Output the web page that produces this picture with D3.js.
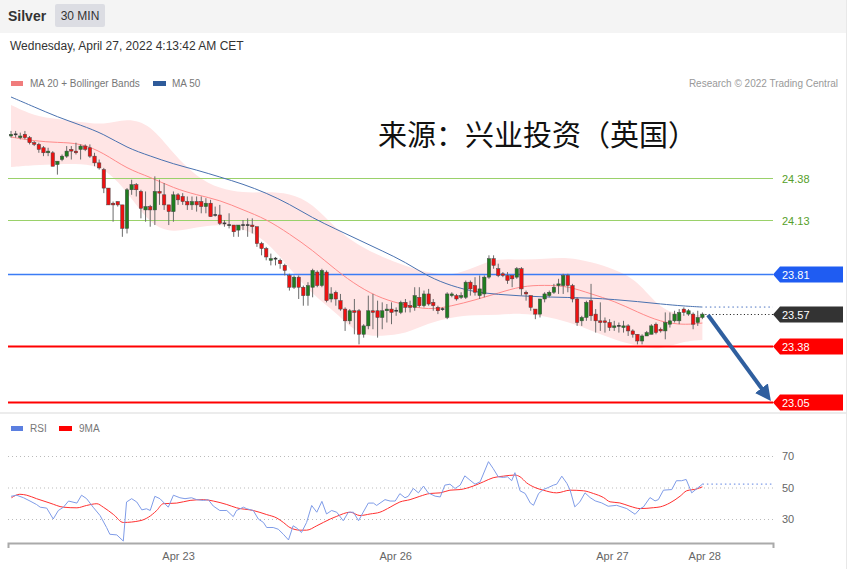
<!DOCTYPE html>
<html><head><meta charset="utf-8">
<script src="https://cdn.jsdelivr.net/npm/d3@7"></script>
<style>
body{margin:0;background:#fff;}
svg{display:block;font-family:"Liberation Sans",Arial,Helvetica,sans-serif;}
</style>
</head><body>
<svg id="chart" width="861" height="569"></svg>
<script>
// ---------------- DATA ----------------
const opens  = [24.63,24.64,24.62,24.64,24.62,24.59,24.58,24.56,24.53,24.53,24.46,24.49,24.51,24.55,24.54,24.55,24.57,24.56,24.51,24.47,
24.43,24.32,24.23,24.24,24.22,24.08,24.31,24.34,24.30,24.19,24.21,24.19,24.30,24.28,24.22,24.18,24.28,24.27,24.24,24.22,
24.24,24.24,24.21,24.23,24.16,24.16,24.11,24.10,24.10,24.07,24.10,24.10,24.10,24.09,23.99,23.96,23.89,23.90,23.89,23.86,
23.80,23.73,23.79,23.73,23.68,23.73,23.82,23.74,23.82,23.66,23.70,23.65,23.60,23.53,23.59,23.59,23.45,23.50,23.59,23.59,
23.55,23.59,23.60,23.59,23.58,23.64,23.62,23.61,23.67,23.62,23.69,23.64,23.61,23.60,23.55,23.68,23.68,23.67,23.67,23.76,
23.74,23.68,23.69,23.79,23.90,23.84,23.81,23.80,23.80,23.79,23.84,23.70,23.68,23.60,23.57,23.66,23.68,23.70,23.74,23.74,
23.80,23.74,23.66,23.53,23.55,23.65,23.57,23.53,23.53,23.52,23.49,23.50,23.49,23.50,23.47,23.45,23.41,23.44,23.45,23.51,
23.48,23.47,23.51,23.53,23.53,23.60,23.57,23.57,23.52,23.55];
const highs  = [24.66,24.66,24.65,24.66,24.63,24.60,24.59,24.57,24.56,24.54,24.48,24.52,24.57,24.57,24.59,24.58,24.58,24.58,24.53,24.49,
24.44,24.32,24.24,24.24,24.22,24.32,24.37,24.35,24.31,24.30,24.22,24.39,24.37,24.35,24.22,24.30,24.29,24.29,24.27,24.27,
24.27,24.27,24.26,24.25,24.21,24.22,24.13,24.17,24.10,24.10,24.13,24.14,24.14,24.09,24.00,23.97,23.93,23.91,23.90,23.87,
23.81,23.80,23.80,23.74,23.76,23.84,23.83,23.84,23.83,23.73,23.71,23.69,23.61,23.60,23.66,23.60,23.51,23.68,23.69,23.65,
23.64,23.63,23.64,23.61,23.65,23.66,23.65,23.73,23.73,23.71,23.72,23.66,23.62,23.61,23.70,23.70,23.69,23.70,23.77,23.77,
23.79,23.80,23.80,23.92,23.92,23.87,23.82,23.82,23.80,23.85,23.85,23.71,23.68,23.60,23.66,23.70,23.71,23.75,23.78,23.81,
23.81,23.75,23.67,23.56,23.65,23.75,23.60,23.64,23.55,23.54,23.53,23.52,23.53,23.51,23.48,23.45,23.45,23.47,23.51,23.52,
23.49,23.58,23.58,23.59,23.60,23.61,23.60,23.58,23.59,23.58];
const lows   = [24.62,24.62,24.61,24.61,24.58,24.57,24.53,24.51,24.51,24.45,24.40,24.48,24.50,24.49,24.52,24.49,24.54,24.50,24.45,24.43,
24.29,24.22,24.12,24.21,24.03,24.05,24.28,24.27,24.14,24.12,24.09,24.10,24.22,24.19,24.10,24.12,24.22,24.22,24.19,24.19,
24.18,24.17,24.17,24.15,24.15,24.10,24.09,24.08,24.03,24.03,24.07,24.03,24.05,23.97,23.92,23.89,23.86,23.86,23.84,23.80,
23.71,23.72,23.66,23.62,23.62,23.67,23.73,23.73,23.64,23.64,23.62,23.59,23.47,23.51,23.45,23.39,23.43,23.48,23.48,23.43,
23.48,23.52,23.51,23.56,23.57,23.58,23.58,23.59,23.61,23.61,23.62,23.59,23.57,23.59,23.54,23.67,23.65,23.66,23.66,23.68,
23.68,23.66,23.67,23.78,23.84,23.79,23.79,23.75,23.73,23.78,23.68,23.65,23.59,23.54,23.55,23.64,23.67,23.69,23.69,23.69,
23.70,23.64,23.50,23.50,23.53,23.53,23.46,23.47,23.46,23.47,23.47,23.46,23.46,23.44,23.43,23.39,23.39,23.44,23.45,23.45,
23.46,23.42,23.49,23.52,23.51,23.56,23.56,23.48,23.50,23.54];
const closes = [24.64,24.64,24.63,24.62,24.59,24.58,24.55,24.53,24.54,24.45,24.48,24.51,24.54,24.54,24.53,24.57,24.55,24.51,24.47,24.44,
24.32,24.22,24.22,24.22,24.08,24.31,24.34,24.31,24.20,24.21,24.19,24.30,24.29,24.22,24.18,24.28,24.25,24.24,24.22,24.24,
24.22,24.21,24.23,24.15,24.16,24.11,24.11,24.10,24.06,24.10,24.10,24.10,24.09,23.99,23.96,23.91,23.90,23.90,23.87,23.83,
23.73,23.79,23.73,23.68,23.74,23.83,23.74,23.83,23.65,23.69,23.66,23.60,23.53,23.59,23.58,23.45,23.50,23.59,23.58,23.55,
23.59,23.60,23.58,23.59,23.64,23.61,23.61,23.68,23.62,23.69,23.63,23.62,23.59,23.60,23.69,23.69,23.66,23.68,23.76,23.72,
23.70,23.72,23.79,23.90,23.86,23.80,23.80,23.77,23.78,23.84,23.72,23.69,23.61,23.57,23.66,23.69,23.70,23.73,23.75,23.80,
23.74,23.66,23.52,23.55,23.64,23.56,23.53,23.52,23.52,23.49,23.50,23.50,23.50,23.47,23.45,23.41,23.44,23.46,23.50,23.46,
23.47,23.52,23.53,23.57,23.58,23.58,23.59,23.51,23.55,23.57];

// indicator samples (bar index -> price)
const indIdx   = [0,5,10,15,20,25,30,35,40,45,50,55,60,65,70,75,80,85,90,95,100,105,110,115,120,125,130,135,140,145,149];
const ma20     = [24.624,24.600,24.591,24.588,24.529,24.434,24.386,24.320,24.279,24.249,24.190,24.136,24.047,23.951,23.832,23.731,23.660,23.624,23.594,23.618,23.654,23.695,23.737,23.743,23.737,23.690,23.648,23.582,23.523,23.505,23.517];
const ma50     = [24.862,24.803,24.743,24.695,24.642,24.559,24.511,24.463,24.428,24.386,24.344,24.291,24.225,24.142,24.076,24.011,23.946,23.880,23.791,23.737,23.701,23.687,23.678,23.672,23.669,23.666,23.657,23.645,23.630,23.618,23.612];
const bbUpper  = [24.815,24.749,24.731,24.713,24.695,24.737,24.701,24.523,24.386,24.315,24.291,24.297,24.291,24.231,24.076,23.975,23.910,23.856,23.815,23.797,23.851,23.904,23.892,23.898,23.910,23.880,23.838,23.773,23.594,23.565,23.565];
const bbLower  = [24.445,24.457,24.463,24.466,24.445,24.303,24.100,24.053,24.088,24.106,24.082,24.011,23.844,23.684,23.582,23.440,23.440,23.451,23.517,23.553,23.565,23.565,23.576,23.559,23.523,23.475,23.416,23.380,23.356,23.410,23.416];

// RSI samples (bar index -> value)
const rsiIdx = [0,1.2,2.7,4.1,5.5,6.3,7.7,9.1,10.2,11.3,12.4,14.2,15.2,16.3,17.7,19.2,20.6,21.3,22.8,24.2,
24.9,26.0,27.1,28.2,29.2,30.0,31.0,32.1,32.8,33.9,35.0,36.4,37.5,38.9,40.0,41.5,42.5,43.6,45.0,46.5,
47.9,48.6,50.1,50.8,52.2,53.3,54.4,55.1,56.5,57.6,58.7,59.8,60.8,61.6,62.6,63.7,64.8,65.9,67.0,68.0,
69.1,70.2,71.6,72.7,73.8,74.9,75.9,77.0,78.1,78.8,80.6,81.7,82.8,83.8,84.9,85.6,86.7,87.8,88.9,89.9,
91.4,92.5,93.5,94.6,95.7,96.8,97.8,98.9,100.0,101.1,102.9,103.9,105.0,106.1,107.0,107.9,108.6,109.7,110.8,111.9,
112.6,113.7,114.7,115.8,116.9,117.6,118.7,119.8,120.5,121.5,122.6,123.7,124.8,125.9,127.3,128.7,130.5,132.7,134.5,135.6,
136.3,137.7,138.8,139.5,140.6,142.4,143.4,144.5,145.5,146.7,147.4,149];
const rsiVal = [44.4,45.1,43.5,41.4,39.2,37.5,36.9,30.0,35.4,37.5,41.4,40.1,45.1,42.9,37.5,32.2,24.6,20.3,19.9,16.0,
40.8,42.9,40.8,35.8,36.5,35.4,44.4,42.9,40.8,37.5,45.1,43.5,42.9,43.5,42.3,41.8,42.3,38.2,35.4,35.4,
31.5,35.4,37.5,36.5,35.4,30.0,27.8,24.6,24.6,23.5,20.3,16.7,25.7,24.2,21.4,27.8,38.6,34.3,41.2,33.2,
35.4,34.3,28.9,34.3,34.3,28.9,34.3,40.1,40.1,38.6,42.3,41.4,41.4,46.1,43.5,44.4,49.4,46.6,50.9,46.6,
44.5,44.0,51.5,52.1,49.4,51.5,57.4,54.7,52.1,53.6,66.4,62.1,56.8,56.4,56.8,54.3,59.4,47.9,46.2,40.2,
38.7,46.2,48.7,50.0,51.5,52.1,57.2,52.6,48.3,37.7,40.9,46.6,43.6,41.5,40.2,38.1,38.7,36.6,33.0,36.6,
37.7,43.6,41.5,42.3,48.3,48.7,54.3,54.3,55.1,46.6,48.3,52.1];
const ma9Idx = [0.1,1.9,3.4,5.5,8.4,11.3,14.2,16.3,18.5,19.9,22.1,24.2,27.8,29.6,31.4,32.8,35.7,38.6,41.5,43.6,
46.5,48.6,52.2,55.1,57.3,58.7,60.1,62.3,63.7,65.9,68.8,70.2,73.1,75.2,77.4,79.5,81.7,83.8,86.0,88.1,
90.3,92.5,94.6,96.8,99.6,101.8,103.9,106.1,108.6,109.7,111.1,112.9,114.7,117.6,120.5,123.4,125.5,127.7,129.1,131.2,
133.4,135.6,138.5,139.9,142.0,144.2,145.6,147.8,149];
const ma9Val = [43.5,45.7,45.1,42.9,40.1,37.5,37.1,38.6,39.7,37.5,32.8,27.8,28.9,31.1,35.4,39.7,40.1,41.8,42.3,41.4,
39.2,37.1,35.4,32.8,30.6,27.8,24.6,22.9,22.9,25.7,30.0,31.7,34.3,32.2,33.2,34.3,37.5,40.8,42.3,44.4,
46.2,46.6,48.3,48.7,50.9,53.6,56.2,57.2,57.9,56.8,53.0,50.0,48.3,46.6,48.3,47.9,46.2,43.6,40.9,40.2,
38.1,36.6,37.2,37.7,40.2,44.5,47.9,49.1,50.4];

// key levels
const levelPrices = [24.38, 24.13, 23.81, 23.57, 23.38, 23.05];
const levelLabels = ["24.38","24.13","23.81","23.57","23.38","23.05"];
const levelKinds  = ["res","res","pivot","last","sup","sup"];
const rsiLevels   = [70, 50, 30];

// x-axis ticks (bar index)
const tickIdx    = [36, 82.8, 129.5, 149.4];
const tickLabels = ["Apr 23","Apr 26","Apr 27","Apr 28"];

// arrow (bar index, price)
const arrowFrom = [150.2, 23.565];
const arrowTo   = [163.6, 23.055];

// --------------- DRAW ----------------
const svg = d3.select("#chart");
const N = closes.length;

const x = d3.scaleLinear().domain([0, N - 1]).range([11, 702.4]);
const y = d3.scaleLinear().domain([23.05, 24.38]).range([401.5, 178]);
const yR = d3.scaleLinear().domain([30, 70]).range([519, 456]);
const X0 = 8, X1 = 773;

// header
svg.append("rect").attr("x",0).attr("y",0).attr("width",846).attr("height",33).attr("fill","#f4f4f4");
svg.append("text").attr("x",8).attr("y",21).attr("font-size",14).attr("font-weight","bold").attr("fill","#333").text("Silver");
svg.append("rect").attr("x",55).attr("y",4).attr("width",50).attr("height",23).attr("rx",2).attr("fill","#dcdde3");
svg.append("text").attr("x",80).attr("y",20).attr("text-anchor","middle").attr("font-size",12).attr("fill","#333").text("30 MIN");
svg.append("text").attr("x",10).attr("y",50).attr("font-size",12).attr("fill","#333").text("Wednesday, April 27, 2022 4:13:42 AM CET");

// frame lines
svg.append("line").attr("x1",846.5).attr("x2",846.5).attr("y1",0).attr("y2",569).attr("stroke","#e8e8e8");
svg.append("line").attr("x1",0).attr("x2",846).attr("y1",413).attr("y2",413).attr("stroke","#ececec").attr("stroke-width",2);

// legend main
svg.append("rect").attr("x",11).attr("y",81).attr("width",12).attr("height",5).attr("fill","#f07c7c");
svg.append("text").attr("x",30).attr("y",87).attr("font-size",10).attr("fill","#777").text("MA 20 + Bollinger Bands");
svg.append("rect").attr("x",153).attr("y",81).attr("width",13).attr("height",5).attr("fill","#2f5b9a");
svg.append("text").attr("x",172).attr("y",87).attr("font-size",10).attr("fill","#777").text("MA 50");
svg.append("text").attr("x",838).attr("y",87).attr("text-anchor","end").attr("font-size",10).attr("fill","#999").text("Research © 2022 Trading Central");

// Bollinger band
const bandData = indIdx.map((d,k)=>({i:d,u:bbUpper[k],l:bbLower[k],m20:ma20[k],m50:ma50[k]}));
svg.append("path").datum(bandData)
  .attr("d", d3.area().x(d=>x(d.i)).y0(d=>y(d.l)).y1(d=>y(d.u)).curve(d3.curveBasis))
  .attr("fill","#ffe5e5");

// Chinese watermark
svg.append("text").attr("x",378).attr("y",146).attr("font-size",29)
  .attr("font-family","'Noto Sans CJK SC','Noto Sans CJK JP',sans-serif").attr("fill","#111")
  .text("来源：兴业投资（英国）");

// horizontal levels
const lvlColor = {res:"#9ad16a", pivot:"#3b7cf5", last:"#222", sup:"#ff0000"};
const lvlWidth = {res:1, pivot:1.5, last:1, sup:2};
levelPrices.forEach((p,k)=>{
  const kind = levelKinds[k], yy = Math.round(y(p))+0.5;
  if (kind === "last") {
    svg.append("line").attr("x1",x(N-1)+3).attr("x2",X1).attr("y1",yy).attr("y2",yy)
      .attr("stroke","#111").attr("stroke-dasharray","1,2.5");
  } else {
    svg.append("line").attr("x1",X0).attr("x2",X1).attr("y1",yy).attr("y2",yy)
      .attr("stroke",lvlColor[kind]).attr("stroke-width",lvlWidth[kind]);
  }
  if (kind === "res") {
    svg.append("text").attr("x",782).attr("y",yy+4).attr("font-size",11).attr("fill","#56a02a").text(levelLabels[k]);
  } else {
    const fill = kind==="pivot" ? "#1f5cf2" : kind==="last" ? "#333" : "#ff0000";
    const h = 8;
    svg.append("path").attr("d",`M773,${yy} L780,${yy-h} L843,${yy-h} L843,${yy+h} L780,${yy+h} Z`).attr("fill",fill);
    svg.append("text").attr("x",782).attr("y",yy+4).attr("font-size",11).attr("fill","#fff").text(levelLabels[k]);
  }
});

// MA lines
svg.append("path").datum(bandData)
  .attr("d", d3.line().x(d=>x(d.i)).y(d=>y(d.m20)).curve(d3.curveBasis))
  .attr("fill","none").attr("stroke","#ff8a8a").attr("stroke-width",1);
svg.append("path").datum(bandData)
  .attr("d", d3.line().x(d=>x(d.i)).y(d=>y(d.m50)).curve(d3.curveBasis))
  .attr("fill","none").attr("stroke","#4a72b0").attr("stroke-width",1);
// MA50 dotted extension
const lastM50 = ma50[ma50.length-1];
svg.append("line").attr("x1",x(N-1)+3).attr("x2",X1).attr("y1",y(lastM50)).attr("y2",y(lastM50))
  .attr("stroke","#4a72c0").attr("stroke-dasharray","1.5,3");

// candles
const cg = svg.append("g");
d3.range(N).forEach(i=>{
  const o=opens[i], c=closes[i], h=highs[i], l=lows[i];
  const cx = x(i);
  cg.append("line").attr("x1",cx).attr("x2",cx).attr("y1",y(h)).attr("y2",y(l))
    .attr("stroke","#6b6b6b").attr("stroke-width",1);
  const top = y(Math.max(o,c)), bot = y(Math.min(o,c));
  const up = c > o;
  if (Math.abs(c-o) < 0.005) {
    cg.append("rect").attr("x",cx-1.8).attr("y",top-0.8).attr("width",3.6).attr("height",1.6).attr("fill","#3a3a3a");
  } else {
    cg.append("rect").attr("x",cx-1.7).attr("y",top).attr("width",3.4).attr("height",Math.max(1.5,bot-top))
      .attr("fill", up ? "#1f7d1f" : "#ee1111").attr("stroke","#444").attr("stroke-width",0.5);
  }
});

// arrow
const defs = svg.append("defs");
defs.append("marker").attr("id","ah").attr("viewBox","0 0 10 10").attr("refX",5).attr("refY",5)
  .attr("markerWidth",4).attr("markerHeight",4).attr("orient","auto")
  .append("path").attr("d","M0,0 L10,5 L0,10 Z").attr("fill","#2f5f9f");
svg.append("line").attr("x1",x(arrowFrom[0])).attr("y1",y(arrowFrom[1]))
  .attr("x2",x(arrowTo[0])-4).attr("y2",y(arrowTo[1])-6)
  .attr("stroke","#2f5f9f").attr("stroke-width",4).attr("marker-end","url(#ah)");

// ---------- RSI panel ----------
svg.append("rect").attr("x",11).attr("y",426).attr("width",12).attr("height",5).attr("fill","#5b7fe0");
svg.append("text").attr("x",30).attr("y",432).attr("font-size",10).attr("fill","#777").text("RSI");
svg.append("rect").attr("x",59).attr("y",426).attr("width",13).attr("height",5).attr("fill","#ff0000");
svg.append("text").attr("x",79).attr("y",432).attr("font-size",10).attr("fill","#777").text("9MA");

rsiLevels.forEach(v=>{
  svg.append("line").attr("x1",X0).attr("x2",X1).attr("y1",yR(v)+0.5).attr("y2",yR(v)+0.5)
    .attr("stroke","#bbb").attr("stroke-dasharray","1,3");
  svg.append("text").attr("x",782).attr("y",yR(v)+4).attr("font-size",11).attr("fill","#666").text(v);
});

const rsiPts = rsiIdx.map((d,k)=>[d, rsiVal[k]]);
const ma9Pts = ma9Idx.map((d,k)=>[d, ma9Val[k]]);
svg.append("path").datum(ma9Pts).attr("d", d3.line().x(d=>x(d[0])).y(d=>yR(d[1])).curve(d3.curveMonotoneX))
  .attr("fill","none").attr("stroke","#ff3030").attr("stroke-width",1);
svg.append("path").datum(rsiPts).attr("d", d3.line().x(d=>x(d[0])).y(d=>yR(d[1])))
  .attr("fill","none").attr("stroke","#7f9ce8").attr("stroke-width",1);
const lastR = rsiVal[rsiVal.length-1];
svg.append("line").attr("x1",x(rsiIdx[rsiIdx.length-1])).attr("x2",X1).attr("y1",yR(lastR)).attr("y2",yR(lastR))
  .attr("stroke","#7f9ce8").attr("stroke-dasharray","1.5,3").attr("stroke-width",1.2);

// x axis
const xa = x.copy().domain([x.invert(X0), x.invert(X1)]).range([X0, X1]);
const axis = d3.axisBottom(xa).tickValues(tickIdx).tickFormat((d,k)=>tickLabels[k]).tickSizeInner(0).tickSizeOuter(5).tickPadding(9);
const ag = svg.append("g").attr("transform","translate(0,543)").call(axis);
ag.select(".domain").attr("stroke","#aaa").attr("stroke-width",2);
ag.selectAll("text").attr("font-size",11).attr("fill","#666").attr("font-family","'Liberation Sans',Arial,sans-serif");
</script>
</body></html>
